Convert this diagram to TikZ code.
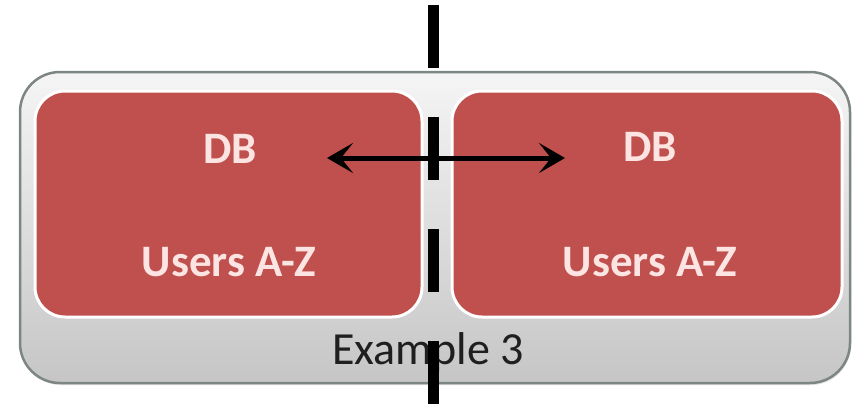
\documentclass[tikz,border=0pt]{standalone}
\usepackage{fontspec}
\setmainfont{Carlito}
\usetikzlibrary{positioning,arrows.meta,shadows}
\definecolor{dbred}{HTML}{C0504D}
\definecolor{dbtext}{HTML}{FCE4E2}
\definecolor{rim}{HTML}{7E8684}
\begin{document}
\begin{tikzpicture}[x=1pt,y=1pt]
                    \tikzstyle{every node}=[inner sep=0]
                    \tikzstyle{panel}=[rectangle,rounded corners=40,draw=rim,line width=2.5,top color=white!92!gray,bottom color=gray!45,minimum width=830,minimum height=311]
                    \tikzstyle{dbbox}=[rectangle,rounded corners=30,fill=dbred,draw=white,line width=3,minimum height=226]
                    \tikzstyle{dblabel}=[text=dbtext,font=\fontsize{45}{50}\selectfont\bfseries]
                    \tikzstyle{caption}=[text=black!88,font=\fontsize{46}{50}\selectfont]
                    \tikzstyle{split}=[line width=11,dash pattern=on 63 off 49]
                    \useasboundingbox (0,0) rectangle (853,-405);
                    {
                        \node[panel,drop shadow={opacity=0.25,shadow xshift=1,shadow yshift=-2}] (shard) at (435,-227.5) {};
                        \node[dbbox,minimum width=387] (dbl) at (228.5,-204) {};
                        \node[dbbox,minimum width=390] (dbr) at (647,-204) {};

                        \node[dblabel] (dbnl) at (230,-149) {DB};
                        \node[dblabel] (usl) at (229,-262) {Users A-Z};
                        \node[dblabel] (dbnr) at (650,-147) {DB};
                        \node[dblabel] (usr) at (650,-262) {Users A-Z};

                        \node[caption] (ex) at (428,-352) {Example 3};

                        % replication link between the two copies
                        \coordinate (linkl) at (327,-158);
                        \coordinate (linkr) at (565,-158);
                        \draw[line width=5,{Stealth[length=26,width=30,inset=12]}-{Stealth[length=26,width=30,inset=12]}] (linkl) -- (linkr);

                        % partition line
                        \coordinate (cuttop) at (433,-5);
                        \coordinate (cutbot) at (433,-405);
                        \draw[split] (cuttop) -- (cutbot);
                    }
                \end{tikzpicture}
\end{document}
